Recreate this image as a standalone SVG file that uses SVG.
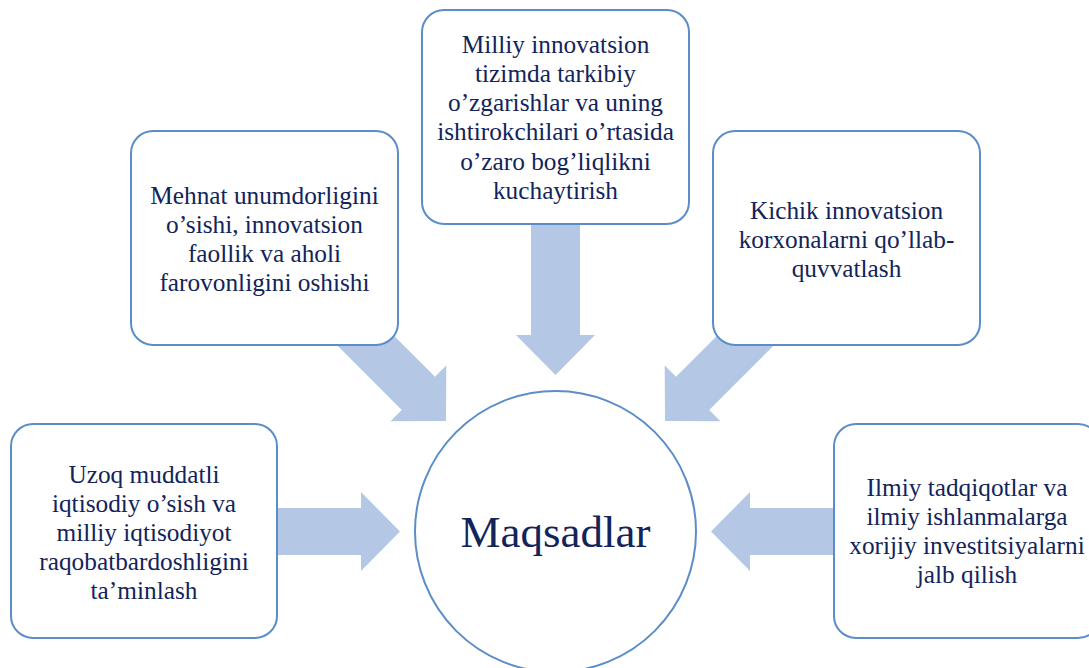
<svg xmlns="http://www.w3.org/2000/svg" width="1089" height="668" viewBox="0 0 1089 668">
<style>
.box{fill:#ffffff;stroke:#5B8DC9;stroke-width:2}
.arr{fill:#B4C8E6;stroke:none}
.t{font-family:"Liberation Serif","Times New Roman",serif;font-size:25.3px;fill:#12245A;text-anchor:middle}
.big{font-family:"Liberation Serif","Times New Roman",serif;font-size:45px;fill:#12245A;text-anchor:middle}
</style>
<rect width="1089" height="668" fill="#ffffff"/>
<g id="connectors">
<polygon class="arr" points="366.6,308.4 435,376.8 446.3,365.5 446,421 390.5,421.3 401.8,410 333.4,341.6"/>
<polygon class="arr" points="744.4,308.4 676,376.8 664.7,365.5 665,421 720.5,421.3 709.2,410 777.6,341.6"/>
<polygon class="arr" points="531,200 580,200 580,335 595,335 555.5,375 516,335 531,335"/>
<polygon class="arr" points="260,508 361,508 361,492 400,531.5 361,571 361,555 260,555"/>
<polygon class="arr" points="851,508 750,508 750,492 711,531.5 750,571 750,555 851,555"/>
</g>
<g id="node-uzoq">
<rect class="box" x="11" y="424" width="266" height="214" rx="22"/>
<text class="t" x="144" y="483">Uzoq muddatli</text>
<text class="t" x="144" y="512">iqtisodiy o’sish va</text>
<text class="t" x="144" y="541">milliy iqtisodiyot</text>
<text class="t" x="144" y="570">raqobatbardoshligini</text>
<text class="t" x="144" y="599">ta’minlash</text>
</g>
<g id="node-mehnat">
<rect class="box" x="131" y="131" width="267" height="214" rx="22"/>
<text class="t" x="264.5" y="204">Mehnat unumdorligini</text>
<text class="t" x="264.5" y="233">o’sishi, innovatsion</text>
<text class="t" x="264.5" y="262">faollik va aholi</text>
<text class="t" x="264.5" y="291">farovonligini oshishi</text>
</g>
<g id="node-milliy">
<rect class="box" x="422" y="10" width="267" height="214" rx="22"/>
<text class="t" x="555.5" y="53">Milliy innovatsion</text>
<text class="t" x="555.5" y="82">tizimda tarkibiy</text>
<text class="t" x="555.5" y="111">o’zgarishlar va uning</text>
<text class="t" x="555.5" y="140">ishtirokchilari o’rtasida</text>
<text class="t" x="555.5" y="170">o’zaro bog’liqlikni</text>
<text class="t" x="555.5" y="199">kuchaytirish</text>
</g>
<g id="node-kichik">
<rect class="box" x="713" y="131" width="267" height="214" rx="22"/>
<text class="t" x="846.5" y="218.5">Kichik innovatsion</text>
<text class="t" x="846.5" y="247.5">korxonalarni qo’llab-</text>
<text class="t" x="846.5" y="276.5">quvvatlash</text>
</g>
<g id="node-ilmiy">
<rect class="box" x="834" y="424" width="266" height="214" rx="22"/>
<text class="t" x="967" y="496">Ilmiy tadqiqotlar va</text>
<text class="t" x="967" y="525">ilmiy ishlanmalarga</text>
<text class="t" x="967" y="554">xorijiy investitsiyalarni</text>
<text class="t" x="967" y="583">jalb qilish</text>
</g>
<g id="node-maqsadlar">
<circle class="box" cx="555.5" cy="531.5" r="140.5"/>
<text class="big" x="555.5" y="547">Maqsadlar</text>
</g>
</svg>
